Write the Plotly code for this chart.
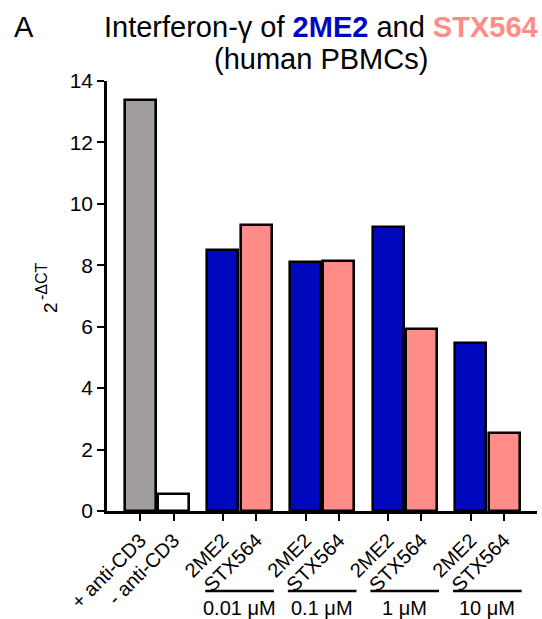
import plotly.graph_objects as go

# ---- data ----
categories = ["+ anti-CD3", "- anti-CD3",
              "2ME2", "STX564", "2ME2", "STX564",
              "2ME2", "STX564", "2ME2", "STX564"]
values = [13.38, 0.54, 8.50, 9.32, 8.11, 8.15, 9.25, 5.92, 5.48, 2.53]
group_index = [0, 0, 1, 1, 2, 2, 3, 3, 4, 4]
within_index = [0, 1, 0, 1, 0, 1, 0, 1, 0, 1]
dose_labels = ["0.01 μM", "0.1 μM", "1 μM", "10 μM"]
y_ticks = [0, 2, 4, 6, 8, 10, 12, 14]

# ---- layout helpers ----
GROUP_PITCH = 2.48
BAR_W = 0.93
xpos = [1 + g * GROUP_PITCH + j for g, j in zip(group_index, within_index)]
colors = ["#A09CA0", "#FFFFFF"] + ["#0008BE", "#FF8C87"] * 4

FONT = "Liberation Sans, Arial, Helvetica, sans-serif"

fig = go.Figure()
fig.add_trace(go.Bar(
    x=xpos, y=values, width=BAR_W,
    marker=dict(color=colors, line=dict(color="black", width=2.6)),
    showlegend=False, hoverinfo="skip",
))

W, H = 542, 619
L, R, T, B = 107, 5, 81, 108
pw, ph = W - L - R, H - T - B

def px_to_paper_x(px):
    return (px - L) / pw

def px_to_paper_y(py):
    return (H - B - py) / ph

fig.update_layout(
    width=W, height=H,
    margin=dict(l=L, r=R, t=T, b=B, pad=0, autoexpand=False),
    paper_bgcolor="white", plot_bgcolor="white",
    font=dict(family=FONT, size=20, color="black"),
    bargap=0,
    xaxis=dict(
        range=[0, 12.91], tickmode="array", tickvals=xpos, ticktext=categories,
        tickangle=-45, showline=True, linecolor="black", linewidth=2.6,
        ticks="outside", ticklen=7, tickwidth=2.4, tickcolor="black",
        showgrid=False, zeroline=False, tickfont=dict(size=20), automargin=False,
    ),
    yaxis=dict(
        range=[0, 14], tickmode="array", tickvals=y_ticks,
        showline=True, linecolor="black", linewidth=2.6,
        ticks="outside", ticklen=7, tickwidth=2.4, tickcolor="black",
        showgrid=False, zeroline=False, tickfont=dict(size=21), automargin=False,
    ),
)

annotations = [
    dict(text="Interferon-γ of <b><span style='color:#0008BE'>2ME2</span></b> and "
              "<b><span style='color:#FF8C87'>STX564</span></b>",
         x=px_to_paper_x(321), y=px_to_paper_y(27), xref="paper", yref="paper",
         showarrow=False, font=dict(size=29), xanchor="center", yanchor="middle"),
    dict(text="(human PBMCs)",
         x=px_to_paper_x(321), y=px_to_paper_y(59), xref="paper", yref="paper",
         showarrow=False, font=dict(size=29), xanchor="center", yanchor="middle"),
    dict(text="A", x=px_to_paper_x(24), y=px_to_paper_y(27), xref="paper", yref="paper",
         showarrow=False, font=dict(size=29), xanchor="center", yanchor="middle"),
    # y-axis title "2^-ΔCT" built from two rotated pieces
    dict(text="2", x=px_to_paper_x(50), y=px_to_paper_y(308), textangle=-90,
         xref="paper", yref="paper", showarrow=False,
         font=dict(size=19), xanchor="center", yanchor="middle"),
    dict(text="-ΔCT", x=px_to_paper_x(41), y=px_to_paper_y(281), textangle=-90,
         xref="paper", yref="paper", showarrow=False,
         font=dict(size=16), xanchor="center", yanchor="middle"),
]

shapes = []
for g, lab in enumerate(dose_labels, start=1):
    xs = [x for x, gi in zip(xpos, group_index) if gi == g]
    x0, x1 = min(xs) - 0.53, max(xs) + 0.53
    shapes.append(dict(type="line", xref="x", yref="paper",
                       x0=x0, x1=x1, y0=px_to_paper_y(591), y1=px_to_paper_y(591),
                       line=dict(color="black", width=2.4)))
    annotations.append(dict(text=lab, x=(x0 + x1) / 2, y=px_to_paper_y(608),
                            xref="x", yref="paper", showarrow=False,
                            font=dict(size=20), xanchor="center", yanchor="middle"))

fig.update_layout(annotations=annotations, shapes=shapes)
fig.write_html("out.html")
